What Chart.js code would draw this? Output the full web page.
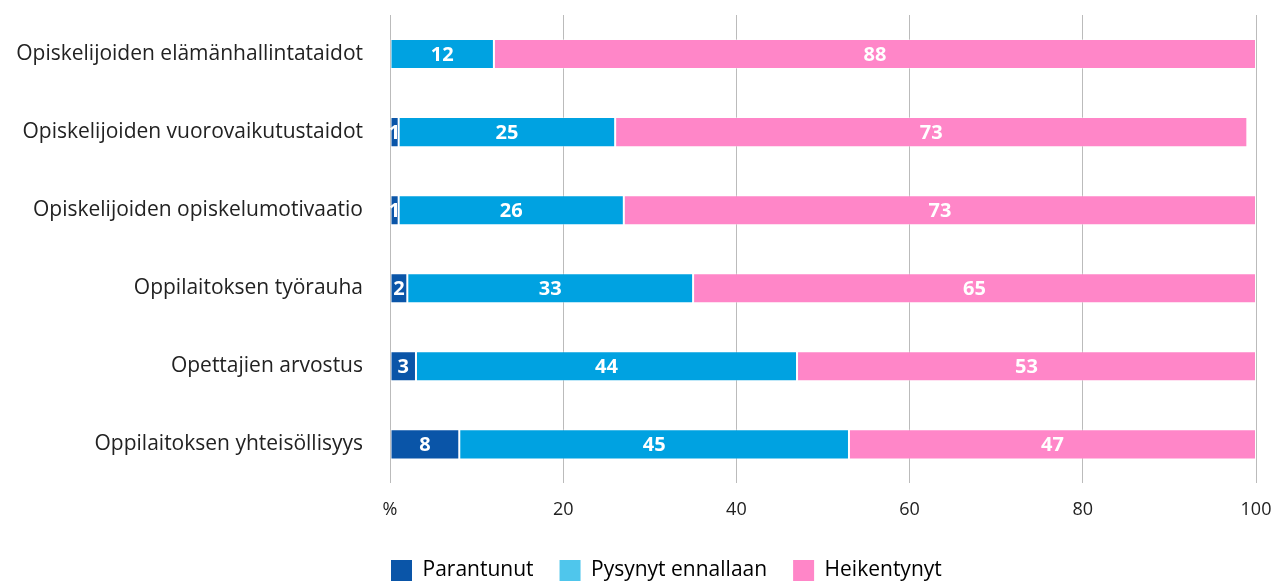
<!DOCTYPE html>
<html>
<head>
<meta charset="utf-8">
<script src="https://cdn.jsdelivr.net/npm/chart.js@4"></script>
<style>
	html, body { margin: 0; padding: 0; background: #fff; }
	#wrap { width: 1272px; height: 581px; }
</style>
</head>
<body>
<div id="wrap"><canvas id="chart"></canvas></div>
<script>
const categories = [
	'Opiskelijoiden elämänhallintataidot',
	'Opiskelijoiden vuorovaikutustaidot',
	'Opiskelijoiden opiskelumotivaatio',
	'Oppilaitoksen työrauha',
	'Opettajien arvostus',
	'Oppilaitoksen yhteisöllisyys'
];
const parantunut = [0, 1, 1, 2, 3, 8];
const pysynyt = [12, 25, 26, 33, 44, 45];
const heikentynyt = [88, 73, 73, 65, 53, 47];
const seriesNames = ['Parantunut', 'Pysynyt ennallaan', 'Heikentynyt'];
const tickValues = [0, 20, 40, 60, 80, 100];

const barColors = ['#0a55a8', '#00a2e1', '#ff86c8'];
const legendColors = ['#0a55a8', '#4fc6ec', '#ff86c8'];
const fontFamily = '"Open Sans", Lato, sans-serif';

// value labels inside segments
const valueLabels = {
	id: 'valueLabels',
	afterDatasetsDraw(chart) {
		const ctx = chart.ctx;
		ctx.save();
		ctx.fillStyle = '#fff';
		ctx.font = 'bold 20px ' + fontFamily;
		ctx.textAlign = 'center';
		ctx.textBaseline = 'middle';
		chart.data.datasets.forEach((ds, i) => {
			chart.getDatasetMeta(i).data.forEach((bar, j) => {
				var v = ds.data[j];
				if (!v) return;
				var cx = (bar.x + bar.base) / 2;
				ctx.fillText(v, cx, bar.y + 1);
			});
		});
		ctx.restore();
	}
};

// legend starts under the plot, not centered
const moveLegend = {
	id: 'moveLegend',
	beforeDraw(chart) {
		const lg = chart.legend;
		lg.left = chart.chartArea.left + 1 - lg.options.labels.padding;
		lg.top = 560 - lg.options.labels.padding;
	}
};

let config = {
	type: 'bar',
	data: {
		labels: categories,
		datasets: [
			{ label: seriesNames[0], data: parantunut, backgroundColor: barColors[0] },
			{ label: seriesNames[1], data: pysynyt, backgroundColor: barColors[1] },
			{ label: seriesNames[2], data: heikentynyt, backgroundColor: barColors[2] }
		]
	},
	options: {
		indexAxis: 'y',
		responsive: true,
		maintainAspectRatio: false,
		animation: false,
		datasets: {
			bar: {
				barPercentage: 0.77,
				categoryPercentage: 0.5,
				borderWidth: 1,
				borderColor: 'rgba(255,255,255,0.35)',
				borderSkipped: false
			}
		},
		layout: { padding: { top: 15, right: 16, bottom: -13, left: 0 } },
		plugins: {
			tooltip: { enabled: false },
			legend: {
				position: 'bottom',
				align: 'start',
				labels: {
					boxWidth: 21,
					boxHeight: 21,
					padding: 26,
					color: '#222',
					font: { family: fontFamily, size: 21 },
					generateLabels(chart) {
						return chart.data.datasets.map((ds, i) => ({
							text: ds.label,
							fillStyle: legendColors[i],
							strokeStyle: legendColors[i],
							lineWidth: 0,
							datasetIndex: i,
							hidden: false
						}));
					}
				}
			}
		},
		scales: {
			x: {
				stacked: true,
				min: 0,
				max: 100,
				afterBuildTicks(scale) {
					scale.ticks = tickValues.map(v => ({ value: v }));
				},
				afterFit(scale) {
					scale.paddingLeft = 0;
					scale.paddingRight = 0;
				},
				ticks: {
					color: '#222',
					padding: 16,
					font: { family: fontFamily, size: 18 },
					callback: v => v === 0 ? '%' : v
				},
				grid: { color: '#bbb', lineWidth: 1, drawTicks: false },
				border: { display: false }
			},
			y: {
				stacked: true,
				afterFit(scale) {
					scale.width = 390;
					scale.paddingTop = 0;
					scale.paddingBottom = 0;
				},
				ticks: {
					color: '#222',
					padding: 27,
					font: { family: fontFamily, size: 21 }
				},
				grid: { display: false, drawTicks: false },
				border: { display: false }
			}
		}
	},
	plugins: [valueLabels, moveLegend]
};

const ctx = document.getElementById('chart').getContext('2d');
const myChart = new Chart(ctx, config);
</script>
</body>
</html>
